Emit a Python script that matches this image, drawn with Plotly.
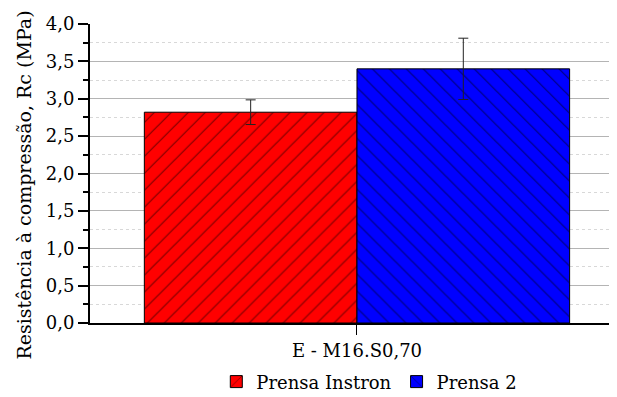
import plotly.graph_objects as go

categories = ["E - M16.S0,70"]
series_names = ["Prensa Instron", "Prensa 2"]
instron_values = [2.82]
instron_errors = [0.165]
prensa2_values = [3.40]
prensa2_errors = [0.41]
y_tickvals = [0, 0.5, 1.0, 1.5, 2.0, 2.5, 3.0, 3.5, 4.0]
y_title = "Resistência à compressão, Rc (MPa)"

FONT = "DejaVu Serif"

fig = go.Figure()
fig.add_trace(go.Bar(
    x=categories, y=instron_values, name=series_names[0],
    marker=dict(color="#ff0000", line=dict(color="black", width=1),
                pattern=dict(shape="/", fgcolor="black", size=12, solidity=0.1)),
    error_y=dict(type="data", array=instron_errors, color="#222222", thickness=1, width=5),
))
fig.add_trace(go.Bar(
    x=categories, y=prensa2_values, name=series_names[1],
    marker=dict(color="#0000ff", line=dict(color="black", width=1),
                pattern=dict(shape="\\", fgcolor="black", size=12, solidity=0.1)),
    error_y=dict(type="data", array=prensa2_errors, color="#222222", thickness=1, width=5),
))

fig.update_layout(
    width=609, height=389,
    margin=dict(l=82, r=0, t=16, b=74, autoexpand=False),
    paper_bgcolor="white", plot_bgcolor="white",
    barmode="group", bargap=0.193, bargroupgap=0,
    separators=",.",
    font=dict(family=FONT, color="black", size=16),
    showlegend=True,
    legend=dict(orientation="h", x=0.53, xanchor="center", y=-0.197, yanchor="middle",
                font=dict(size=18, family=FONT), bgcolor="rgba(0,0,0,0)",
                tracegroupgap=0),
    annotations=[dict(text=y_title, textangle=-90, xref="paper", yref="paper",
                      x=-0.125, y=0.46, xanchor="center", yanchor="middle",
                      showarrow=False, font=dict(size=19, family=FONT, color="black"))],
)
fig.update_xaxes(
    type="category", range=[-0.5066, 0.4934], automargin=False,
    showline=True, linecolor="black", linewidth=2,
    ticks="outside", ticklen=10, tickwidth=1, tickcolor="black",
    tickfont=dict(size=18, family=FONT), showgrid=False, zeroline=False,
)
fig.update_yaxes(
    range=[0, 4.0], tickvals=y_tickvals, tickformat=".1f", automargin=False,
    showline=True, linecolor="black", linewidth=2,
    ticks="outside", ticklen=10, tickwidth=2, tickcolor="black",
    tickfont=dict(size=18, family=FONT),
    showgrid=True, gridcolor="#b4b4b4", gridwidth=1, zeroline=False,
    minor=dict(dtick=0.25, ticks="outside", ticklen=5, tickwidth=2, tickcolor="black",
               showgrid=True, gridcolor="#d8d8d8", griddash="dot", gridwidth=1),
)

fig.write_html("out.html")
